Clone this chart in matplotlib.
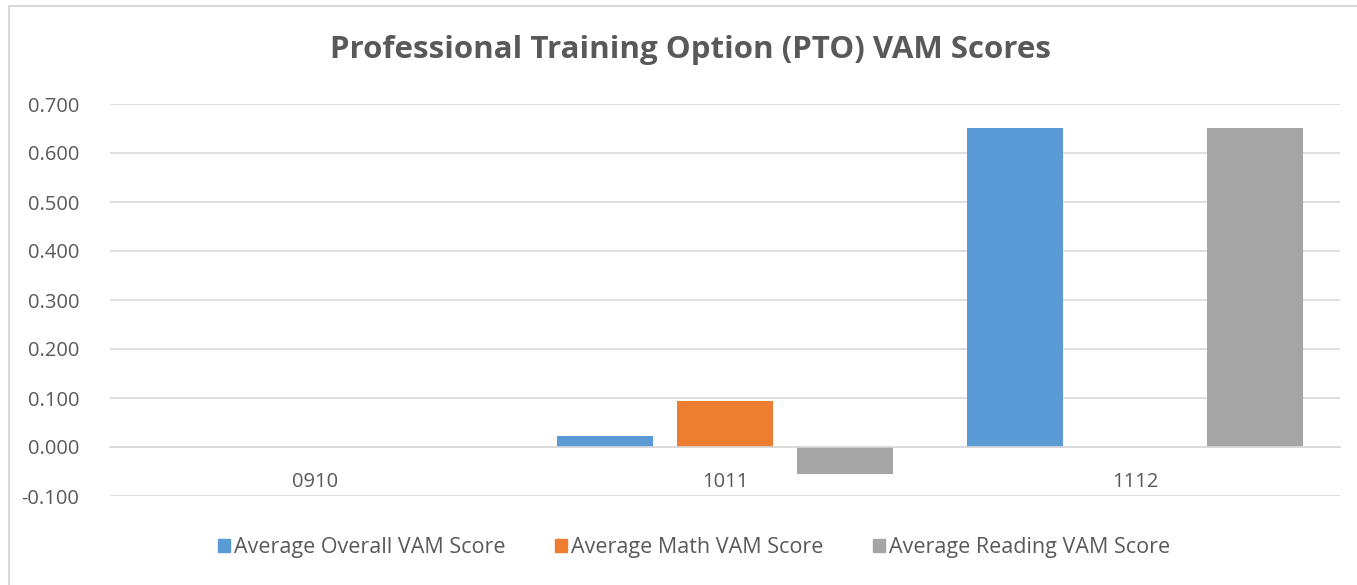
import matplotlib
matplotlib.use("Agg")
import matplotlib.pyplot as plt
from matplotlib.lines import Line2D
import numpy as np

categories = ["0910", "1011", "1112"]
series_names = ["Average Overall VAM Score", "Average Math VAM Score", "Average Reading VAM Score"]
overall = [0.0, 0.022, 0.651]
math = [0.0, 0.093, 0.0]
reading = [0.0, -0.055, 0.651]
colors = ["#5B9BD5", "#ED7D31", "#A5A5A5"]
yticks = [-0.1, 0.0, 0.1, 0.2, 0.3, 0.4, 0.5, 0.6, 0.7]

W, H = 1357, 585
fig = plt.figure(figsize=(W / 100, H / 100), dpi=100)
plt.rcParams['font.family'] = ['Open Sans', 'DejaVu Sans']
txt = "#595959"

ax = fig.add_axes([110 / W, 1 - 496 / H, (1340 - 110) / W, 392 / H])
x = np.arange(len(categories))
width = 0.234
offset = 0.293
for i, (vals, name) in enumerate(zip([overall, math, reading], series_names)):
    ax.bar(x + (i - 1) * offset, vals, width, color=colors[i], label=name, zorder=3)

ax.set_xlim(-0.5, 2.5)
ax.set_ylim(-0.1, 0.7)
ax.set_yticks(yticks)
ax.set_yticklabels([f"{v:.3f}" for v in yticks], color=txt, fontsize=14.5)
ax.yaxis.grid(True, color="#D9D9D9", linewidth=1.2, zorder=0)
ax.tick_params(axis='y', length=0, pad=22)
for s in ['left', 'right', 'top']:
    ax.spines[s].set_visible(False)
ax.spines['bottom'].set_position(('data', 0))
ax.spines['bottom'].set_color("#D9D9D9")
ax.spines['bottom'].set_linewidth(1.2)
ax.spines['bottom'].set_zorder(4)
ax.set_xticks(x)
ax.set_xticklabels(categories, color=txt, fontsize=14.5)
ax.tick_params(axis='x', length=0, pad=18)

fig.text(690 / W, 1 - 50 / H, "Professional Training Option (PTO) VAM Scores",
         ha='center', va='center', fontsize=22.5, fontweight='bold', color=txt)

handles = [plt.Rectangle((0, 0), 1, 1, color=c) for c in colors]
leg = fig.legend(handles, series_names, loc='center', bbox_to_anchor=(694 / W, 1 - 548 / H),
                 ncol=3, frameon=False, fontsize=15.5, handlelength=0.55, handleheight=0.55,
                 handletextpad=0.2, columnspacing=2.3)
for t in leg.get_texts():
    t.set_color(txt)

fig.add_artist(Line2D([8.5 / W, 8.5 / W], [0, 1 - 5.5 / H], transform=fig.transFigure,
                      color="#D9D9D9", linewidth=1.5))
fig.add_artist(Line2D([8.5 / W, 1], [1 - 5.5 / H, 1 - 5.5 / H], transform=fig.transFigure,
                      color="#D9D9D9", linewidth=1.5))

fig.savefig("out.png", dpi=100)
